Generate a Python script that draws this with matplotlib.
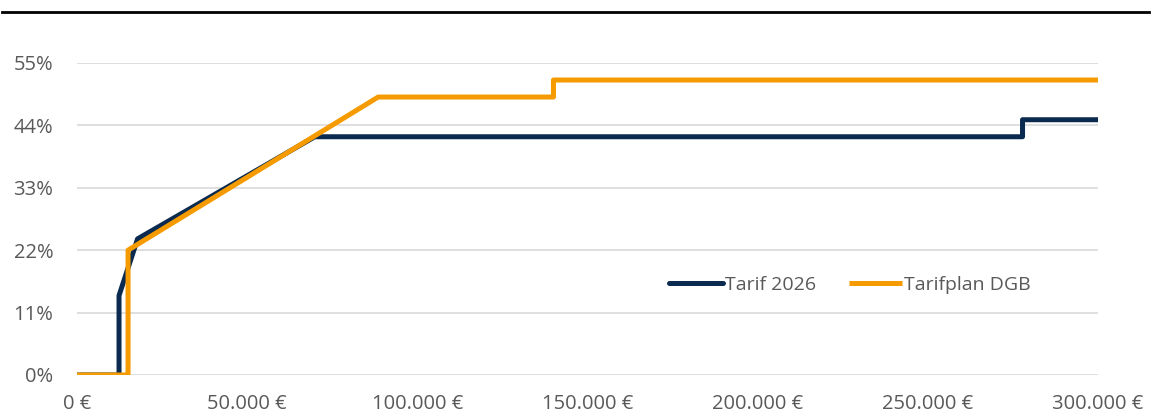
import matplotlib
matplotlib.use('Agg')
import matplotlib.pyplot as plt
from matplotlib.lines import Line2D
from matplotlib.ticker import FuncFormatter

# marginal tax rate curves (income in EUR, rate in %)
tarif_2026_x = [0, 12348, 12348, 17799, 69878, 277825, 277825, 300000]
tarif_2026_y = [0, 0, 14, 24, 42, 42, 45, 45]
dgb_x = [0, 15000, 15000, 88500, 140000, 140000, 300000]
dgb_y = [0, 0, 22, 49, 49, 52, 52]

y_ticks = [0, 11, 22, 33, 44, 55]
x_ticks = [0, 50000, 100000, 150000, 200000, 250000, 300000]

navy = '#0b2a4f'
orange = '#f59b00'
grey_text = '#595959'

plt.rcParams['font.family'] = ['Open Sans', 'DejaVu Sans']

fig = plt.figure(figsize=(11.51, 4.16), dpi=100)
ax = fig.add_axes([77/1151, 41/416, (1098-77)/1151, (375-63)/416])

ax.plot(tarif_2026_x, tarif_2026_y, color=navy, lw=3.6, label='Tarif 2026',
        solid_joinstyle='round', solid_capstyle='round', zorder=3)
ax.plot(dgb_x, dgb_y, color=orange, lw=3.6, label='Tarifplan DGB',
        solid_joinstyle='round', solid_capstyle='butt', zorder=4)

ax.set_xlim(0, 300000)
ax.set_ylim(0, 55)
ax.set_yticks(y_ticks)
ax.set_xticks(x_ticks)
ax.yaxis.set_major_formatter(FuncFormatter(lambda v, p: f'{int(v)}%'))
ax.xaxis.set_major_formatter(FuncFormatter(lambda v, p: f'{int(v):,} €'.replace(',', '.')))
ax.grid(axis='y', color='#d9d9d9', lw=1.2)
ax.set_axisbelow(True)
for s in ax.spines.values():
    s.set_visible(False)
ax.tick_params(length=0, labelsize=14.5, labelcolor=grey_text)
ax.tick_params(axis='x', pad=14)
ax.tick_params(axis='y', pad=17)

leg = ax.legend(loc='center left', bbox_to_anchor=(0.563, 0.29), ncol=2, frameon=False,
                fontsize=14, handlelength=2.75, handletextpad=0.1, columnspacing=1.7)
for t in leg.get_texts():
    t.set_color(grey_text)

# thin black rule above the chart
fig.add_artist(Line2D([0.002, 0.998], [1 - 12/416, 1 - 12/416], color='black', lw=2))

fig.savefig('out.png', dpi=100)
